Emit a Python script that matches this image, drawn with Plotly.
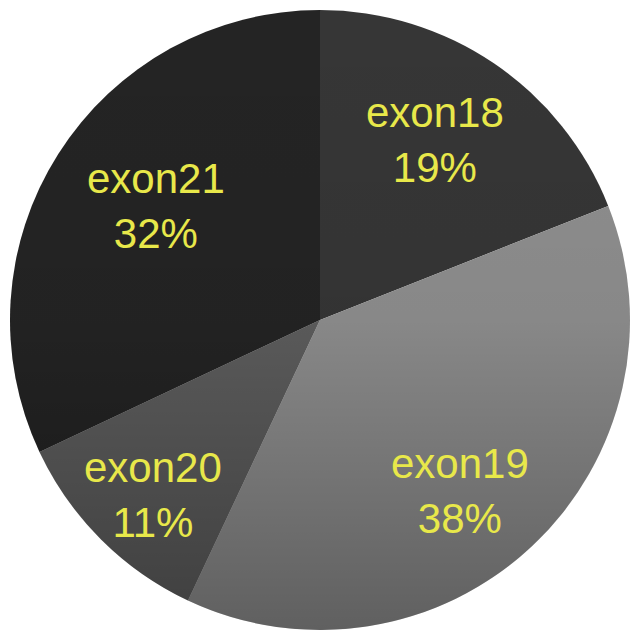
import math
import plotly.graph_objects as go

# EGFR mutation share by exon
exons = ["exon18", "exon19", "exon20", "exon21"]
shares = [19, 38, 11, 32]
slice_colors = ["#363636", "#8f8f8f", "#5e5e5e", "#242424"]

# label placement: radial fraction and angular nudge (degrees) per slice
label_radius = [0.69, 0.713, 0.78, 0.645]
label_nudge = [-1.6, 3.9, -1.3, 2.4]

W, H = 632, 634
CX, CY, R = 320, 320, 310  # pie centre / radius in pixels

fig = go.Figure(
    go.Pie(
        labels=exons,
        values=shares,
        sort=False,
        direction="clockwise",
        rotation=0,
        marker=dict(colors=slice_colors, line=dict(width=0)),
        textinfo="none",
        hoverinfo="label+percent",
        domain=dict(x=[(CX - R) / W, (CX + R) / W],
                    y=[(H - CY - R) / H, (H - CY + R) / H]),
        showlegend=False,
    )
)

# soft top-to-bottom shading across the disc
shade_svg = (
    "data:image/svg+xml;utf8,"
    "<svg xmlns='http://www.w3.org/2000/svg' width='620' height='620' viewBox='0 0 620 620'>"
    "<defs><linearGradient id='g' x1='0' y1='0' x2='0' y2='1'>"
    "<stop offset='0' stop-color='black' stop-opacity='0'/>"
    "<stop offset='0.5' stop-color='black' stop-opacity='0.05'/>"
    "<stop offset='1' stop-color='black' stop-opacity='0.33'/>"
    "</linearGradient></defs>"
    "<circle cx='310' cy='310' r='310' fill='url(%23g)'/></svg>"
)
fig.add_layout_image(
    source=shade_svg,
    xref="paper", yref="paper",
    x=(CX - R) / W, y=1 - (CY - R) / H,
    sizex=2 * R / W, sizey=2 * R / H,
    xanchor="left", yanchor="top",
    sizing="stretch", layer="above",
)

total = sum(shares)
cum = 0
for name, v, rf, nudge in zip(exons, shares, label_radius, label_nudge):
    mid = (cum + v / 2) / total
    cum += v
    theta = math.radians(mid * 360 + nudge)
    px = CX + rf * R * math.sin(theta)
    py = CY - rf * R * math.cos(theta)
    fig.add_annotation(
        x=px / W, y=1 - py / H, xref="paper", yref="paper",
        text=f"{name}<br>{round(100 * v / total)}%",
        showarrow=False, xanchor="center", yanchor="middle",
        font=dict(family="Liberation Sans, Arial, sans-serif", size=42, color="#e8e84a"),
    )

fig.update_layout(
    width=W, height=H,
    margin=dict(l=0, r=0, t=0, b=0),
    paper_bgcolor="white",
    plot_bgcolor="white",
)

fig.write_html("out.html")
